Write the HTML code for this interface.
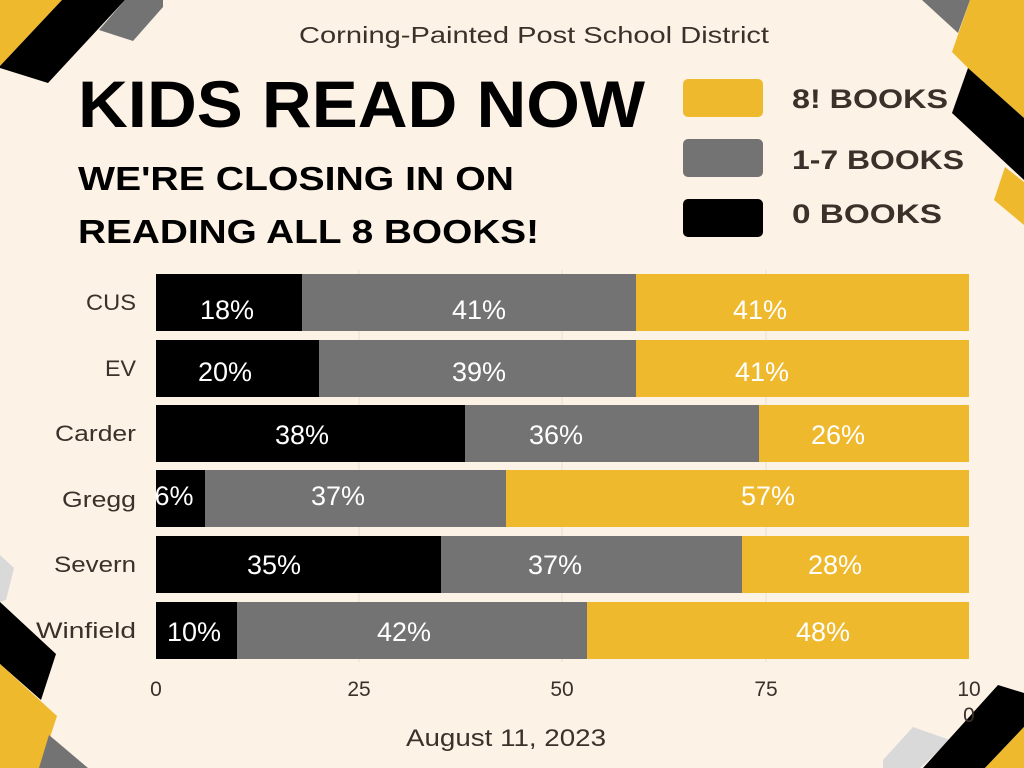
<!DOCTYPE html>
<html><head><meta charset="utf-8"><style>body{margin:0}svg{display:block}</style></head><body>
<svg width="1024" height="768" xmlns="http://www.w3.org/2000/svg" font-family="Liberation Sans, sans-serif">
<rect width="1024" height="768" fill="#fdf2e6"/>
<polygon points="0,0 62,0 0,66" fill="#efb92e"/>
<polygon points="62,0 125,0 48,83 0,68 0,66" fill="#000"/>
<polygon points="125,0 163,0 163,7 133,41 99,30" fill="#737373"/>
<polygon points="922,0 970,0 958,33" fill="#737373"/>
<polygon points="970,0 1024,0 1024,118 968,68 952,52" fill="#efb92e"/>
<polygon points="968,68 1024,118 1024,180 952,113" fill="#000"/>
<polygon points="1005,167 1024,182 1024,225 994,200" fill="#efb92e"/>
<polygon points="0,555 14,568 6,600 0,602" fill="#d9d9d9"/>
<polygon points="0,602 56,654 41,700 0,664" fill="#000"/>
<polygon points="0,664 57,716 40,768 0,768" fill="#efb92e"/>
<polygon points="49,735 88,768 39,768" fill="#737373"/>
<polygon points="913,727 950,740 920,768 883,768 883,760" fill="#d9d9d9"/>
<polygon points="998,685 1024,693 1024,727 985,768 923,768" fill="#000"/>
<polygon points="1024,727 1024,768 985,768" fill="#efb92e"/>
<text x="299" y="43" font-size="23" fill="#3b302a" textLength="470" lengthAdjust="spacingAndGlyphs">Corning-Painted Post School District</text>
<text x="78" y="127" font-size="66" font-weight="bold" fill="#000" textLength="567" lengthAdjust="spacingAndGlyphs">KIDS READ NOW</text>
<text x="78" y="190" font-size="33" font-weight="bold" fill="#000" textLength="436" lengthAdjust="spacingAndGlyphs">WE'RE CLOSING IN ON</text>
<text x="78" y="243" font-size="33" font-weight="bold" fill="#000" textLength="461" lengthAdjust="spacingAndGlyphs">READING ALL 8 BOOKS!</text>
<rect x="683" y="79" width="80" height="38" rx="5" fill="#efb92e"/>
<rect x="683" y="139" width="80" height="38" rx="5" fill="#737373"/>
<rect x="683" y="199" width="80" height="38" rx="5" fill="#000"/>
<g font-size="27" font-weight="bold" fill="#3b302a">
<text x="792" y="108" textLength="156" lengthAdjust="spacingAndGlyphs">8! BOOKS</text>
<text x="792" y="169" textLength="172" lengthAdjust="spacingAndGlyphs">1-7 BOOKS</text>
<text x="792" y="223" textLength="150" lengthAdjust="spacingAndGlyphs">0 BOOKS</text>
</g>
<g stroke="#e6ddd2" stroke-width="1">
<line x1="359" y1="270" x2="359" y2="662"/><line x1="562" y1="270" x2="562" y2="662"/><line x1="766" y1="270" x2="766" y2="662"/>
</g>
<g>
<rect x="156" y="274" width="146" height="57" fill="#000"/><rect x="302" y="274" width="334" height="57" fill="#737373"/><rect x="636" y="274" width="333" height="57" fill="#efb92e"/>
<rect x="156" y="340" width="163" height="57" fill="#000"/><rect x="319" y="340" width="317" height="57" fill="#737373"/><rect x="636" y="340" width="333" height="57" fill="#efb92e"/>
<rect x="156" y="405" width="309" height="57" fill="#000"/><rect x="465" y="405" width="294" height="57" fill="#737373"/><rect x="759" y="405" width="210" height="57" fill="#efb92e"/>
<rect x="156" y="470" width="49" height="57" fill="#000"/><rect x="205" y="470" width="301" height="57" fill="#737373"/><rect x="506" y="470" width="463" height="57" fill="#efb92e"/>
<rect x="156" y="536" width="285" height="57" fill="#000"/><rect x="441" y="536" width="301" height="57" fill="#737373"/><rect x="742" y="536" width="227" height="57" fill="#efb92e"/>
<rect x="156" y="602" width="81" height="57" fill="#000"/><rect x="237" y="602" width="350" height="57" fill="#737373"/><rect x="587" y="602" width="382" height="57" fill="#efb92e"/>
</g>
<g font-size="27" fill="#fff" text-anchor="middle">
<text x="227" y="319">18%</text><text x="479" y="319">41%</text><text x="760" y="319">41%</text>
<text x="225" y="381">20%</text><text x="479" y="381">39%</text><text x="762" y="381">41%</text>
<text x="302" y="444">38%</text><text x="556" y="444">36%</text><text x="838" y="444">26%</text>
<text x="174" y="505">6%</text><text x="338" y="505">37%</text><text x="768" y="505">57%</text>
<text x="274" y="574">35%</text><text x="555" y="574">37%</text><text x="835" y="574">28%</text>
<text x="194" y="641">10%</text><text x="404" y="641">42%</text><text x="823" y="641">48%</text>
</g>
<g font-size="22" fill="#3b302a">
<text x="86" y="310" textLength="50" lengthAdjust="spacingAndGlyphs">CUS</text>
<text x="105" y="376" textLength="31" lengthAdjust="spacingAndGlyphs">EV</text>
<text x="55" y="441" textLength="81" lengthAdjust="spacingAndGlyphs">Carder</text>
<text x="62" y="507" textLength="74" lengthAdjust="spacingAndGlyphs">Gregg</text>
<text x="54" y="572" textLength="82" lengthAdjust="spacingAndGlyphs">Severn</text>
<text x="36" y="638" textLength="100" lengthAdjust="spacingAndGlyphs">Winfield</text>
</g>
<g font-size="21" fill="#3b302a" text-anchor="middle">
<text x="156" y="696">0</text><text x="359" y="696">25</text><text x="562" y="696">50</text><text x="766" y="696">75</text>
<text x="969" y="696">10</text><text x="969" y="722">0</text>
</g>
<text x="406" y="746" font-size="24" fill="#3b302a" textLength="200" lengthAdjust="spacingAndGlyphs">August 11, 2023</text>
</svg>
</body></html>
